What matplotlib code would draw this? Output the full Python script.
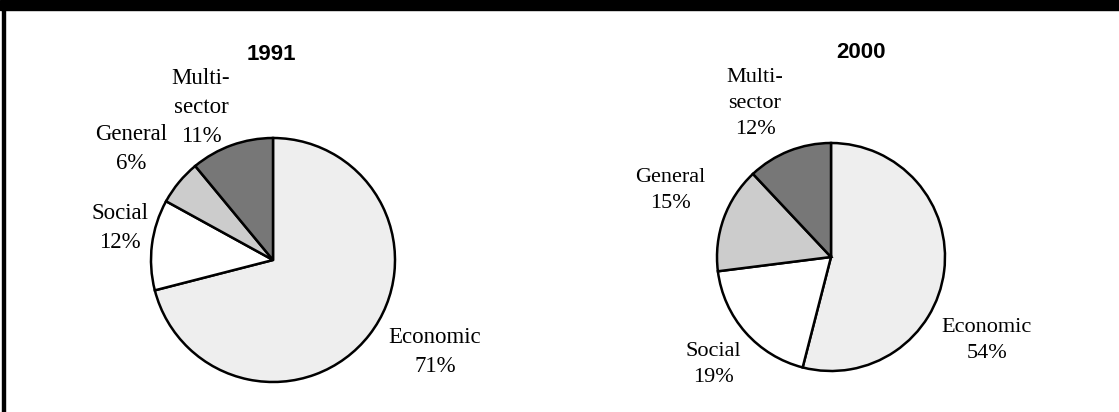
import matplotlib.pyplot as plt
from matplotlib.patches import Rectangle

years = ["1991", "2000"]
sectors = ["Economic", "Social", "General", "Multi-\nsector"]
shares_1991 = [71, 12, 6, 11]
shares_2000 = [54, 19, 15, 12]
colors = ["#eeeeee", "#ffffff", "#cccccc", "#777777"]

W, H = 1119, 412
fig = plt.figure(figsize=(W / 100, H / 100), dpi=100)
ax = fig.add_axes([0, 0, 1, 1])

# pixel layout of each pie (measured from the top-left corner)
layouts = [
    dict(center=(273, 260), radius=122, title=(271, 54), size=16.5,
         labels=[(435, 352), (120, 228), (131, 149), (201, 107)]),
    dict(center=(831, 257), radius=114, title=(861, 52), size=16,
         labels=[(987, 341), (713, 365), (670, 190), (755, 103)]),
]

for year, shares, lay in zip(years, [shares_1991, shares_2000], layouts):
    cx, cy = lay["center"]
    ax.pie(shares, colors=colors, startangle=90, counterclock=False,
           center=(cx, H - cy), radius=lay["radius"], frame=True,
           wedgeprops=dict(edgecolor="black", linewidth=1.8))
    tx, ty = lay["title"]
    ax.text(tx, H - ty, year, ha="center", va="center", fontsize=16,
            fontweight="bold", family="Liberation Sans")
    for name, share, (lx, ly) in zip(sectors, shares, lay["labels"]):
        ax.text(lx, H - ly, f"{name}\n{share}%", ha="center", va="center",
                fontsize=lay["size"], family="Liberation Serif",
                linespacing=1.5)

ax.set_xlim(0, W)
ax.set_ylim(0, H)
ax.set_aspect("equal")
ax.axis("off")

# black band along the top and thin rule down the left side
fig.add_artist(Rectangle((0, 1 - 10 / H), 1, 10 / H, transform=fig.transFigure,
                         color="black"))
fig.add_artist(Rectangle((2 / W, 0), 3 / W, 1, transform=fig.transFigure,
                         color="black"))

fig.savefig("out.png", dpi=100)
